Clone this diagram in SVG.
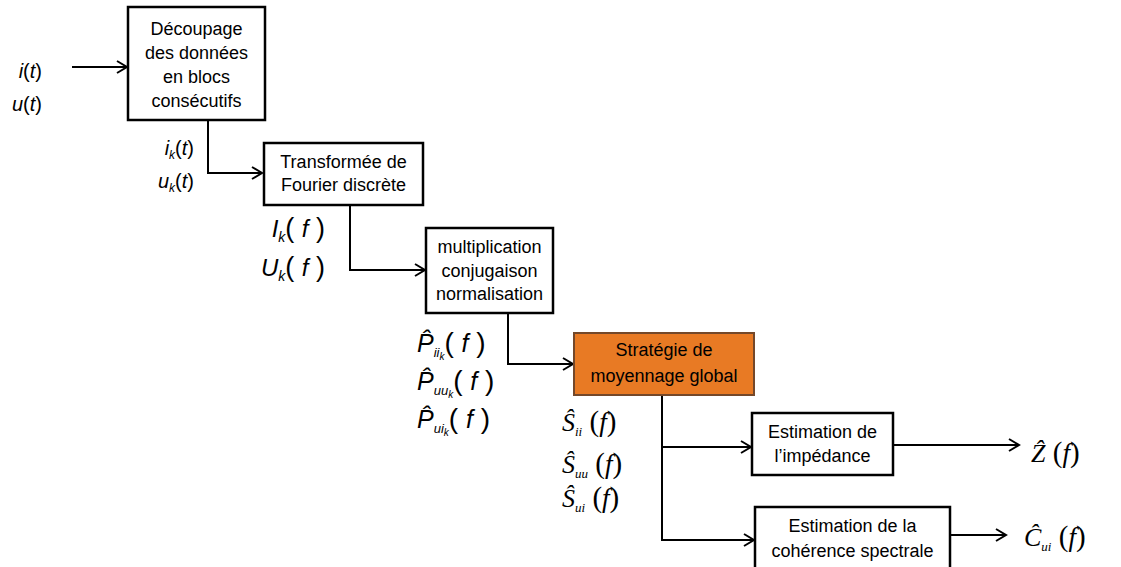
<svg xmlns="http://www.w3.org/2000/svg" width="1121" height="567" viewBox="0 0 1121 567">
<style>
.box{fill:#fff;stroke:#000;stroke-width:2.5}
.bt{font-family:"Liberation Sans",Arial,sans-serif;font-size:18px;fill:#000;text-anchor:middle}
.ln{fill:none;stroke:#000;stroke-width:2}
.ms{font-family:"Liberation Sans",Arial,sans-serif;font-style:italic;fill:#000}
.mt{font-family:"Liberation Serif","Times New Roman",serif;fill:#000}
.it{font-style:italic}
.up{font-style:normal}
</style>
<defs>
<marker id="arr" markerWidth="14" markerHeight="14" refX="12" refY="7" orient="auto" markerUnits="userSpaceOnUse">
<path d="M2,1 L12,7 L2,13" fill="none" stroke="#000" stroke-width="2"/>
</marker>
</defs>
<rect width="1121" height="567" fill="#fff"/>
<g id="connectors">
<path class="ln" d="M72,67 H127" marker-end="url(#arr)"/>
<path class="ln" d="M208,120 V173 H262" marker-end="url(#arr)"/>
<path class="ln" d="M350,205 V270 H425" marker-end="url(#arr)"/>
<path class="ln" d="M508,313 V364 H573" marker-end="url(#arr)"/>
<path class="ln" d="M662,395 V540 H754" marker-end="url(#arr)"/>
<path class="ln" d="M662,447 H751" marker-end="url(#arr)"/>
<path class="ln" d="M893,445 H1019" marker-end="url(#arr)"/>
<path class="ln" d="M950,535 H1006" marker-end="url(#arr)"/>
</g>
<g id="n1">
<rect class="box" x="128" y="7" width="137" height="113"/>
<text class="bt" x="196.5" y="35">Découpage</text>
<text class="bt" x="196.5" y="59">des données</text>
<text class="bt" x="196.5" y="83">en blocs</text>
<text class="bt" x="196.5" y="107">consécutifs</text>
</g>
<g id="n2">
<rect class="box" x="264" y="143" width="159" height="62"/>
<text class="bt" x="343.5" y="168">Transformée de</text>
<text class="bt" x="343.5" y="191">Fourier discrète</text>
</g>
<g id="n3">
<rect class="box" x="426" y="228" width="127" height="85"/>
<text class="bt" x="489.5" y="253">multiplication</text>
<text class="bt" x="489.5" y="277">conjugaison</text>
<text class="bt" x="489.5" y="300">normalisation</text>
</g>
<g id="n4">
<rect x="574" y="333" width="180" height="62" fill="#E87A24" stroke="#74482a" stroke-width="2"/>
<text class="bt" x="664" y="356">Stratégie de</text>
<text class="bt" x="664" y="382">moyennage global</text>
</g>
<g id="n5">
<rect class="box" x="752" y="413" width="141" height="62"/>
<text class="bt" x="822.5" y="438">Estimation de</text>
<text class="bt" x="822.5" y="462">l’impédance</text>
</g>
<g id="n6">
<rect class="box" x="755" y="507" width="195" height="64"/>
<text class="bt" x="852.5" y="532">Estimation de la</text>
<text class="bt" x="852.5" y="557">cohérence spectrale</text>
</g>
<g id="labels">
<text class="ms" x="42" y="78" font-size="20" text-anchor="end">i<tspan class="up">(</tspan>t<tspan class="up">)</tspan></text>
<text class="ms" x="42" y="111" font-size="20" text-anchor="end">u<tspan class="up">(</tspan>t<tspan class="up">)</tspan></text>
<text class="ms" x="194" y="155" font-size="20" text-anchor="end">i<tspan font-size="12" dy="4">k</tspan><tspan class="up" dy="-4">(</tspan>t<tspan class="up">)</tspan></text>
<text class="ms" x="194" y="188" font-size="20" text-anchor="end">u<tspan font-size="12" dy="4">k</tspan><tspan class="up" dy="-4">(</tspan>t<tspan class="up">)</tspan></text>
<text class="ms" x="325" y="237" font-size="24" text-anchor="end">I<tspan font-size="14" dy="5">k</tspan><tspan class="up" font-size="27" dy="-5">( </tspan>f<tspan class="up" font-size="27"> )</tspan></text>
<text class="ms" x="325" y="276" font-size="24" text-anchor="end">U<tspan font-size="14" dy="5">k</tspan><tspan class="up" font-size="27" dy="-5">( </tspan>f<tspan class="up" font-size="27"> )</tspan></text>
<text class="ms" x="417" y="352" font-size="25">P̂<tspan font-size="13" dy="5">ii</tspan><tspan font-size="10" dy="3">k</tspan><tspan class="up" font-size="28" dy="-8">( </tspan>f<tspan class="up" font-size="28"> )</tspan></text>
<text class="ms" x="417" y="390" font-size="25">P̂<tspan font-size="13" dy="5">uu</tspan><tspan font-size="10" dy="3">k</tspan><tspan class="up" font-size="28" dy="-8">( </tspan>f<tspan class="up" font-size="28"> )</tspan></text>
<text class="ms" x="417" y="428" font-size="25">P̂<tspan font-size="13" dy="5">ui</tspan><tspan font-size="10" dy="3">k</tspan><tspan class="up" font-size="28" dy="-8">( </tspan>f<tspan class="up" font-size="28"> )</tspan></text>
<text class="mt" x="562" y="431" font-size="26"><tspan class="it">Ŝ</tspan><tspan class="it" font-size="13" dy="5">ii</tspan><tspan font-size="29" dy="-5">  (</tspan><tspan class="it" font-size="27">f</tspan><tspan font-size="29">)</tspan></text>
<text class="mt" x="562" y="473" font-size="26"><tspan class="it">Ŝ</tspan><tspan class="it" font-size="13" dy="5">uu</tspan><tspan font-size="29" dy="-5"> (</tspan><tspan class="it" font-size="27">f</tspan><tspan font-size="29">)</tspan></text>
<text class="mt" x="562" y="507" font-size="26"><tspan class="it">Ŝ</tspan><tspan class="it" font-size="13" dy="5">ui</tspan><tspan font-size="29" dy="-5"> (</tspan><tspan class="it" font-size="27">f</tspan><tspan font-size="29">)</tspan></text>
<text class="mt" x="1031" y="462" font-size="26"><tspan class="it">Ẑ</tspan><tspan font-size="29"> (</tspan><tspan class="it" font-size="27">f</tspan><tspan font-size="29">)</tspan></text>
<text class="mt" x="1024" y="546" font-size="26"><tspan class="it">Ĉ</tspan><tspan class="it" font-size="13" dy="5">ui</tspan><tspan font-size="29" dy="-5"> (</tspan><tspan class="it" font-size="27">f</tspan><tspan font-size="29">)</tspan></text>
</g>
</svg>
